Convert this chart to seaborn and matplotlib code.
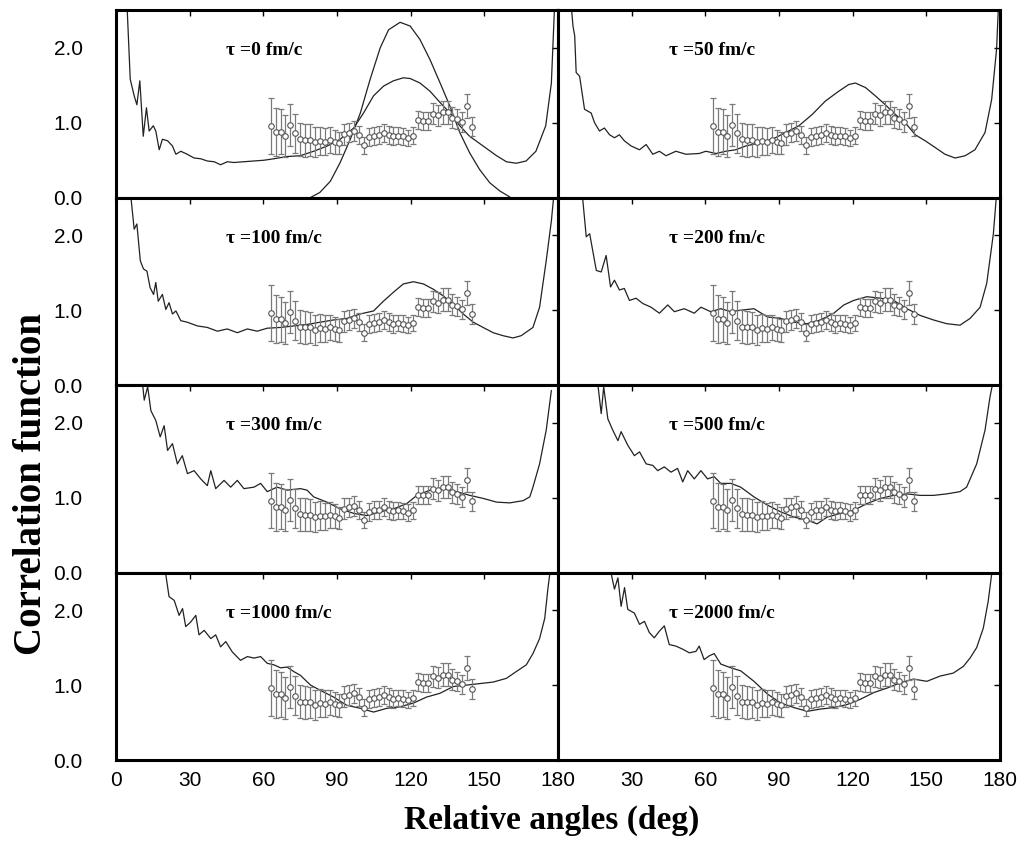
import matplotlib
matplotlib.use('Agg')
import matplotlib.pyplot as plt
import seaborn as sns
import pandas as pd

# measured correlation (same data in every panel)
data_ang = [63, 65, 67, 69, 71, 73, 75, 77, 79, 81, 83, 85, 87, 89, 91,
            93, 95, 97, 99, 101, 103, 105, 107, 109, 111, 113, 115, 117, 119, 121,
            123, 125, 127, 129, 131, 133, 135, 137, 139, 141, 143, 145]
data_val = [0.96, 0.88, 0.88, 0.83, 0.97, 0.86, 0.78, 0.77, 0.77, 0.74, 0.76, 0.75, 0.77, 0.75, 0.73,
            0.85, 0.87, 0.89, 0.84, 0.70, 0.81, 0.83, 0.84, 0.87, 0.84, 0.82, 0.83, 0.82, 0.80, 0.83,
            1.04, 1.03, 1.03, 1.12, 1.10, 1.14, 1.14, 1.07, 1.05, 1.01, 1.23, 0.95]
data_err = [0.37, 0.32, 0.30, 0.28, 0.28, 0.26, 0.22, 0.22, 0.21, 0.20, 0.19, 0.18, 0.17, 0.16, 0.15,
            0.14, 0.13, 0.13, 0.12, 0.11, 0.12, 0.12, 0.12, 0.12, 0.12, 0.12, 0.11, 0.11, 0.11, 0.11,
            0.12, 0.12, 0.12, 0.14, 0.14, 0.15, 0.15, 0.14, 0.13, 0.13, 0.16, 0.13]

# model curves, one per tau
ang_0 = [4.5, 5.8, 7.4, 8.5, 9.7, 11.1, 12.4, 13.5, 15.2, 16.2, 17.6, 18.9, 21, 23, 24.4, 26.4, 29,
         31.8, 34.5, 37.2, 40, 42.6, 45.3, 48, 52, 56, 60.2, 64.3, 69.7, 75, 80.5, 86, 91.3, 96.8,
         100.8, 104.9, 109, 113, 117, 119.8, 123.8, 127.9, 132, 136, 140, 144, 149.5, 155, 159,
         163, 167, 171, 175, 177.3, 178.6]
corr_0 = [2.56, 1.58, 1.36, 1.24, 1.56, 0.82, 1.20, 0.89, 0.96, 0.89, 0.64, 0.78, 0.76, 0.69, 0.58,
          0.62, 0.58, 0.53, 0.52, 0.49, 0.48, 0.44, 0.48, 0.47, 0.48, 0.49, 0.50, 0.52, 0.55, 0.56,
          0.62, 0.69, 0.78, 0.93, 1.13, 1.36, 1.49, 1.56, 1.60, 1.59, 1.53, 1.42, 1.27, 1.13, 0.96,
          0.82, 0.69, 0.56, 0.48, 0.46, 0.49, 0.62, 0.96, 1.53, 2.56]
# extra peaked curve only in the tau = 0 panel
ang_0b = [79, 83, 87.3, 91.3, 95.4, 99.5, 103.5, 107.6, 111, 115.7, 119.8, 123.8, 127.9, 132, 136,
          140, 144, 148, 152.2, 156.3, 160.4]
corr_0b = [0.0, 0.07, 0.22, 0.47, 0.78, 1.13, 1.58, 2.0, 2.24, 2.34, 2.29, 2.11, 1.84, 1.53, 1.22,
           0.87, 0.60, 0.38, 0.20, 0.09, 0.01]

ang_50 = [5.4, 6.1, 6.8, 7.4, 8.8, 10.8, 13.5, 14.9, 16.9, 18.9, 21, 23, 25, 27, 29.8, 33.2, 35.9,
          38.6, 41.3, 44, 48, 52.1, 57.5, 60.2, 64.3, 68.3, 72.4, 76.4, 81.9, 87.3, 92.7, 98.1, 103.5,
          108.9, 114.3, 118.4, 121.1, 125.2, 129.2, 133.3, 137.4, 141.4, 145.5, 149.5, 153.6, 157.6,
          161.7, 165.8, 169.8, 173.9, 176.6, 178.6, 179.3]
corr_50 = [2.56, 2.29, 2.16, 1.67, 1.62, 1.18, 1.13, 1.00, 0.89, 0.93, 0.84, 0.80, 0.84, 0.76, 0.69,
           0.64, 0.71, 0.58, 0.62, 0.56, 0.62, 0.58, 0.59, 0.62, 0.59, 0.62, 0.64, 0.69, 0.73, 0.78,
           0.87, 0.96, 1.11, 1.29, 1.42, 1.51, 1.53, 1.47, 1.36, 1.24, 1.11, 1.00, 0.84, 0.76, 0.67,
           0.58, 0.53, 0.56, 0.64, 0.87, 1.31, 1.98, 2.51]

ang_100 = [6.1, 7.4, 8.5, 9.9, 11.2, 12.6, 13.9, 15.3, 16.2, 17.2, 18.9, 20.3, 21.6, 23, 24.4, 26.4,
           29, 33.2, 37.2, 41.3, 45.3, 49.4, 53.5, 57.5, 61.6, 67, 72.4, 77.8, 83.2, 88.6, 94, 99.5,
           104.9, 108.9, 113, 117, 121.1, 125.2, 129.2, 133.3, 137.3, 141.4, 145.5, 149.5, 153.6,
           157.6, 161.7, 165, 169.8, 172.5, 175.2, 177.3, 178.2]
corr_100 = [2.50, 2.08, 2.15, 1.66, 1.55, 1.52, 1.30, 1.21, 1.37, 1.12, 1.21, 1.01, 1.10, 0.95, 0.99,
            0.86, 0.84, 0.79, 0.77, 0.72, 0.75, 0.70, 0.75, 0.72, 0.76, 0.77, 0.79, 0.81, 0.84, 0.87,
            0.89, 0.95, 0.99, 1.12, 1.24, 1.35, 1.38, 1.35, 1.28, 1.19, 1.08, 0.95, 0.84, 0.77, 0.70,
            0.66, 0.63, 0.66, 0.77, 1.04, 1.66, 2.19, 2.50]

ang_200 = [10.1, 11.5, 12.9, 15.6, 17.6, 19.6, 21.4, 23, 25, 27, 29.1, 31.8, 34.5, 37.9, 41.3, 44.7,
           47.4, 51.4, 55.5, 58.2, 62.2, 66.3, 70.4, 74.4, 79.8, 85.3, 90.7, 96.1, 101.5, 106.9,
           112.3, 116.4, 120.4, 125.8, 131.3, 136.7, 142.1, 147.5, 152.9, 158.3, 163.7, 167.8,
           171.9, 174.6, 177.3, 178.4]
corr_200 = [2.47, 1.98, 2.02, 1.53, 1.51, 1.73, 1.31, 1.40, 1.27, 1.29, 1.13, 1.16, 1.09, 1.04, 0.96,
            1.07, 0.98, 1.02, 0.96, 1.04, 0.98, 1.02, 0.98, 1.00, 1.02, 0.91, 0.89, 0.84, 0.82, 0.87,
            0.96, 1.07, 1.13, 1.18, 1.16, 1.13, 1.02, 0.93, 0.87, 0.82, 0.80, 0.89, 1.04, 1.36, 2.02,
            2.47]

ang_300 = [10.8, 11.5, 12.9, 14.2, 16.2, 18, 19.6, 21, 23, 25, 27, 29.1, 31.8, 34.5, 37.2, 38.6,
           40.6, 44, 46.7, 49.4, 52.1, 56.2, 58.9, 61.6, 65.6, 69.7, 75.1, 77.8, 80.5, 85.9, 91.3,
           96.8, 102.2, 107.6, 113, 118.4, 122.5, 127.9, 133.3, 138.7, 144.1, 149.5, 155, 160.4,
           165.8, 168.5, 169.8, 172.5, 175.2, 177.3]
corr_300 = [2.52, 2.30, 2.48, 2.16, 2.03, 1.81, 1.96, 1.63, 1.72, 1.45, 1.56, 1.32, 1.36, 1.25, 1.16,
            1.36, 1.12, 1.23, 1.14, 1.23, 1.12, 1.14, 1.19, 1.08, 1.14, 1.10, 1.12, 1.10, 1.01, 0.94,
            0.85, 0.79, 0.76, 0.81, 0.85, 0.92, 1.03, 1.10, 1.12, 1.08, 1.03, 0.99, 0.94, 0.93, 0.96,
            1.01, 1.14, 1.45, 1.90, 2.43]

ang_500 = [16.2, 17.6, 18.6, 20.3, 22.3, 24.4, 25.7, 28.4, 31.1, 33.2, 35.9, 38.6, 40.6, 43.3, 46,
           48.7, 50.8, 52.8, 55.5, 58.2, 60.9, 63.6, 66.3, 70.4, 74.4, 79.8, 85.3, 90.7, 96.1, 101.5,
           105.5, 109.6, 115, 120.4, 125.8, 131.3, 136.7, 142.1, 147.5, 152.9, 158.3, 163.7, 166.4,
           170.5, 173.9, 175.9, 177]
corr_500 = [2.52, 2.12, 2.48, 2.05, 1.90, 1.76, 1.88, 1.70, 1.56, 1.61, 1.45, 1.43, 1.36, 1.41, 1.34,
            1.39, 1.21, 1.36, 1.25, 1.36, 1.25, 1.28, 1.19, 1.19, 1.14, 1.01, 0.90, 0.81, 0.74, 0.70,
            0.65, 0.74, 0.79, 0.83, 0.92, 0.99, 1.03, 1.05, 1.03, 1.03, 1.05, 1.08, 1.14, 1.45, 1.90,
            2.34, 2.52]

ang_1000 = [20.3, 21.6, 23.7, 25.7, 27.1, 28.4, 30.4, 32.5, 33.8, 35.9, 38.6, 40.6, 42.6, 44.7, 47.4,
            50.7, 53.5, 56.2, 58.9, 61.6, 64.3, 67, 69.7, 72.4, 75.1, 79.2, 83.2, 88.6, 94, 99.5,
            104.9, 110.3, 115.7, 121.1, 126.5, 131.9, 137.3, 142.8, 148.2, 153.6, 159, 163, 167.1,
            169.8, 172.5, 174.6, 175.9, 176.6]
corr_1000 = [2.47, 2.18, 2.13, 1.93, 2.02, 1.78, 1.84, 1.93, 1.67, 1.73, 1.62, 1.67, 1.51, 1.58, 1.44,
             1.33, 1.38, 1.36, 1.38, 1.29, 1.27, 1.23, 1.24, 1.18, 1.13, 1.00, 0.93, 0.84, 0.73, 0.69,
             0.64, 0.69, 0.71, 0.76, 0.84, 0.89, 0.98, 1.00, 1.02, 1.04, 1.09, 1.18, 1.27, 1.42, 1.62,
             1.89, 2.29, 2.47]

ang_2000 = [21.7, 23, 24.4, 25.7, 27.1, 28.4, 31.1, 33.2, 35.2, 37.2, 39.2, 41.3, 43.3, 45.3, 48,
            50.7, 53.5, 56.2, 57.5, 59.5, 61.6, 63.6, 66.3, 70.4, 74.4, 79.8, 85.3, 90.7, 96.1, 101.5,
            106.9, 112.3, 117.7, 123.1, 128.6, 134, 139.4, 144.8, 150.2, 155.6, 161, 165.1, 167.8,
            170.5, 173.2, 175.2, 176.6]
corr_2000 = [2.48, 2.28, 2.43, 2.05, 2.30, 2.01, 1.96, 1.81, 1.85, 1.70, 1.63, 1.72, 1.79, 1.54, 1.52,
             1.48, 1.43, 1.45, 1.52, 1.34, 1.39, 1.42, 1.28, 1.23, 1.19, 1.05, 0.88, 0.76, 0.70, 0.65,
             0.68, 0.70, 0.74, 0.81, 0.90, 0.96, 1.03, 1.08, 1.05, 1.12, 1.16, 1.25, 1.36, 1.50, 1.76,
             2.12, 2.48]

tau_labels = ['0', '50', '100', '200', '300', '500', '1000', '2000']
curves = [(ang_0, corr_0), (ang_50, corr_50), (ang_100, corr_100), (ang_200, corr_200),
          (ang_300, corr_300), (ang_500, corr_500), (ang_1000, corr_1000), (ang_2000, corr_2000)]
x_ticks = [0, 30, 60, 90, 120, 150, 180]

sns.set_style('white')
plt.rcParams['font.family'] = ['Liberation Sans', 'DejaVu Sans']
serif = ['Liberation Serif', 'DejaVu Serif']

data_df = pd.DataFrame({'angle': data_ang, 'corr': data_val, 'err': data_err})

fig, axes = plt.subplots(4, 2, figsize=(10.32, 8.59), dpi=100, sharey=True)
fig.subplots_adjust(left=0.1124, right=0.969, top=0.988, bottom=0.1152, wspace=0, hspace=0)

for i, ax in enumerate(axes.flat):
    x, y = curves[i]
    sns.lineplot(x=x, y=y, ax=ax, color='#222222', lw=0.9, estimator=None, sort=False)
    if i == 0:
        sns.lineplot(x=ang_0b, y=corr_0b, ax=ax, color='#222222', lw=0.9, estimator=None, sort=False)

    # data with error bars
    ax.errorbar(data_df['angle'], data_df['corr'], yerr=data_df['err'], fmt='none',
                ecolor='#7a7a7a', elinewidth=0.9, capsize=2.5, capthick=0.9, zorder=3)
    sns.scatterplot(data=data_df, x='angle', y='corr', ax=ax, marker='o', s=16,
                    facecolor='white', edgecolor='#555555', linewidth=0.8, zorder=4)

    ax.text(45, 1.96, '\u03c4 =' + tau_labels[i] + ' fm/c', fontsize=14, fontweight='bold',
            family=serif, color='black', va='center', ha='left')

    ax.set_xlim(0, 180)
    ax.set_ylim(0, 2.5)
    ax.set_xticks(x_ticks)
    ax.set_yticks([0.0, 1.0, 2.0])
    ax.set_yticklabels(['0.0', '1.0', '2.0'])
    ax.set_xlabel('')
    ax.set_ylabel('')
    ax.tick_params(direction='in', length=4, width=1, top=True, right=True,
                   labelsize=15, colors='black')
    ax.tick_params(axis='y', pad=24)
    ax.tick_params(axis='x', pad=8)
    if i < 6:
        ax.tick_params(labelbottom=False)
    for sp in ax.spines.values():
        sp.set_linewidth(2.2)
        sp.set_color('black')

# bottom row labels; the right 0 sits under the left 180
axes[3, 0].set_xticklabels([str(t) for t in x_ticks])
axes[3, 1].set_xticklabels([''] + [str(t) for t in x_ticks[1:]])

fig.text(0.535, 0.045, 'Relative angles (deg)', fontsize=24, fontweight='bold',
         family=serif, color='black', ha='center', va='center')
fig.text(0.031, 0.437, 'Correlation function', fontsize=28, fontweight='bold',
         family=serif, color='black', rotation=90, ha='center', va='center')

plt.savefig('out.png', dpi=100)
